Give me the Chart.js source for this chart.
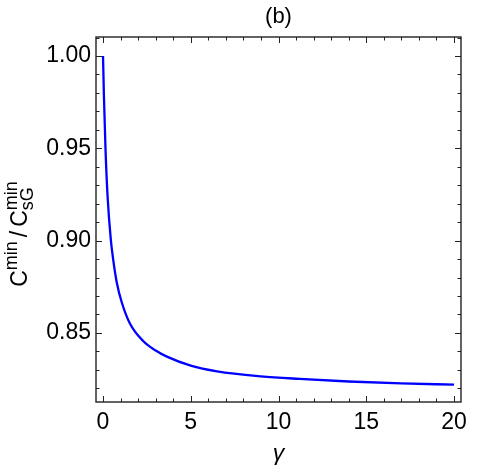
<!DOCTYPE html>
<html>
<head>
<meta charset="utf-8">
<script src="https://cdn.jsdelivr.net/npm/chart.js@4/dist/chart.umd.min.js"></script>
<style>
  html, body { margin: 0; padding: 0; background: #fff; }
  #wrap { width: 500px; height: 475px; }
</style>
</head>
<body>
<div id="wrap"><canvas id="grafico"></canvas></div>
<script>
// Datos (b)
const gammaVals = [0, 0.05, 0.14, 0.26, 0.44, 0.59, 0.78, 1.07, 1.54, 2.3, 3.0, 3.64, 5, 6.5, 9, 11.2, 14, 17, 20];
const ratioVals = [1.000, 0.979, 0.950, 0.924, 0.901, 0.889, 0.8775, 0.8665, 0.855, 0.8455, 0.8405, 0.8372, 0.8323, 0.8292, 0.8265, 0.8251, 0.8237, 0.8227, 0.8220];

// Marcas de los ejes
const xTicks = [0, 5, 10, 15, 20];
const yTicks = [0.85, 0.90, 0.95, 1.00];
const xMinor = [];
for (let i = 0; i <= 20; i++) xMinor.push(i);
const yMinor = [];
for (let i = 82; i <= 101; i++) yMinor.push(i / 100);

const FUENTE = "'Liberation Sans', Arial, sans-serif";

// Marco con marcas hacia adentro en los cuatro lados
const marco = {
    id: 'marco',
    afterDraw(chart) {
        const { ctx, chartArea: a, scales: { x, y } } = chart;
        ctx.save();
        ctx.strokeStyle = '#222';
        ctx.lineWidth = 1;
        const marca = (vals, largo) => {
            vals.forEach(v => {
                const px = Math.round(x.getPixelForValue(v)) + 0.5;
                ctx.beginPath();
                ctx.moveTo(px, a.bottom); ctx.lineTo(px, a.bottom - largo);
                ctx.moveTo(px, a.top); ctx.lineTo(px, a.top + largo);
                ctx.stroke();
            });
        };
        const marcaY = (vals, largo) => {
            vals.forEach(v => {
                const py = Math.round(y.getPixelForValue(v)) + 0.5;
                ctx.beginPath();
                ctx.moveTo(a.left, py); ctx.lineTo(a.left + largo, py);
                ctx.moveTo(a.right, py); ctx.lineTo(a.right - largo, py);
                ctx.stroke();
            });
        };
        marca(xMinor, 3.5);
        marca(xTicks, 6);
        marcaY(yMinor, 3.5);
        marcaY(yTicks, 6);
        ctx.lineWidth = 1.4;
        ctx.strokeRect(a.left, a.top, a.right - a.left, a.bottom - a.top);
        ctx.restore();
    }
};

// Etiqueta del eje Y con superíndices y subíndices
const etiquetaY = {
    id: 'etiquetaY',
    afterDraw(chart) {
        const { ctx } = chart;
        const grande = '23px ' + FUENTE;
        const chica = '18px ' + FUENTE;
        ctx.save();
        ctx.translate(27, 234);
        ctx.rotate(-Math.PI / 2);
        ctx.fillStyle = '#000';
        ctx.textBaseline = 'alphabetic';
        ctx.textAlign = 'left';
        const piezas = [
            { t: 'C', f: grande, dy: 0 },
            { t: 'min', f: chica, dy: -10, gap: 4 },
            { t: '/', f: grande, dy: 0, gap: 4 },
            { t: 'C', f: grande, dy: 0 },
            { t: 'min', f: chica, dy: -10, stack: 'sG' }
        ];
        let total = 0;
        piezas.forEach(p => {
            ctx.font = p.f;
            let w = ctx.measureText(p.t).width;
            if (p.stack) w = Math.max(w, ctx.measureText(p.stack).width);
            p.w = w + (p.gap || 0);
            total += p.w;
        });
        let cx = -total / 2;
        piezas.forEach(p => {
            ctx.font = p.f;
            ctx.fillText(p.t, cx, p.dy);
            if (p.stack) ctx.fillText(p.stack, cx, 6);
            cx += p.w;
        });
        ctx.restore();
    }
};

const puntos = gammaVals.map((g, i) => ({ x: g, y: ratioVals[i] }));

new Chart(document.getElementById('grafico'), {
    type: 'line',
    data: {
        datasets: [{
            data: puntos,
            borderColor: '#0000ff',
            borderWidth: 2.3,
            pointRadius: 0,
            cubicInterpolationMode: 'monotone',
            fill: false
        }]
    },
    options: {
        responsive: true,
        maintainAspectRatio: false,
        animation: false,
        layout: { padding: { left: 0, right: 39, top: 0, bottom: 0 } },
        plugins: {
            legend: { display: false },
            tooltip: { enabled: false },
            title: {
                display: true,
                text: '(b)',
                fullSize: false,
                color: '#000',
                font: { family: FUENTE, size: 22, weight: 'normal' },
                padding: { top: 4, bottom: 6.6 }
            }
        },
        scales: {
            x: {
                type: 'linear',
                min: -0.4,
                max: 20.4,
                afterBuildTicks: s => { s.ticks = xTicks.map(v => ({ value: v })); },
                afterFit: s => { s.height = 73; },
                grid: { display: false, drawTicks: false },
                border: { display: false },
                ticks: {
                    color: '#000',
                    padding: 7,
                    maxRotation: 0,
                    font: { family: FUENTE, size: 23 },
                    callback: v => String(v)
                },
                title: {
                    display: true,
                    text: 'γ',
                    color: '#000',
                    font: { family: FUENTE, size: 23, style: 'italic' },
                    padding: { top: 0, bottom: 8 }
                }
            },
            y: {
                type: 'linear',
                min: 0.8126,
                max: 1.0103,
                afterBuildTicks: s => { s.ticks = yTicks.map(v => ({ value: v })); },
                afterFit: s => { s.width = 96; },
                grid: { display: false, drawTicks: false },
                border: { display: false },
                ticks: {
                    color: '#000',
                    padding: 5,
                    font: { family: FUENTE, size: 23 },
                    callback: v => Number(v).toFixed(2)
                }
            }
        }
    },
    plugins: [marco, etiquetaY]
});
</script>
</body>
</html>
